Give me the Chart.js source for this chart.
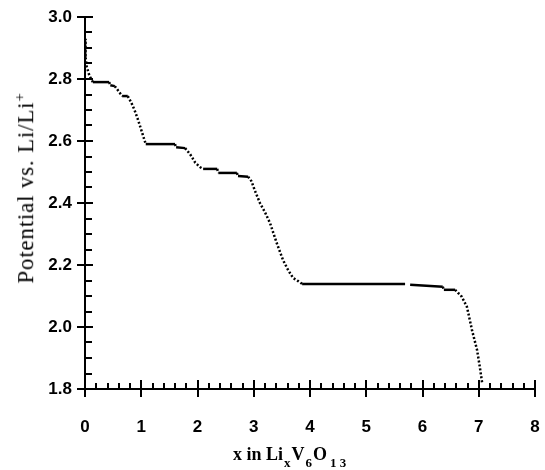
<!DOCTYPE html>
<html>
<head>
<meta charset="utf-8">
<script src="https://cdn.jsdelivr.net/npm/chart.js@4"></script>
<style>
body{margin:0;background:#fff;}
#wrap{position:relative;width:545px;height:470px;overflow:hidden;}
#yTitle{position:absolute;left:25px;top:188px;transform:translate(-50%,-50%) rotate(-90deg);white-space:nowrap;
  font-family:"Liberation Serif","Times New Roman",serif;font-size:23px;letter-spacing:0.8px;color:#000;}
#yTitle sup{font-size:15px;}
#xTitle{position:absolute;left:233px;top:445px;white-space:nowrap;line-height:1;
  font-family:"Liberation Serif","Times New Roman",serif;font-size:18px;font-weight:bold;color:#000;}
#xTitle sub{font-size:13px;vertical-align:baseline;position:relative;top:7px;margin:0 1px 0 1px;}
</style>
</head>
<body>
<div id="wrap">
  <canvas id="c" width="545" height="470"></canvas>
  <div id="yTitle">Potential vs. Li/Li<sup>+</sup></div>
  <div id="xTitle">x in Li<sub>x</sub>V<sub>6</sub>O<sub style="margin-left:3px">1 3</sub></div>
</div>
<script>
// ======= Data =======
const xVals=[0,0.01,0.03,0.08,0.14,0.43,0.45,0.53,0.6,0.66,0.76,0.82,0.88,0.94,1.01,1.08,
  1.6,1.62,1.78,1.87,1.96,2.05,2.1,2.35,2.37,2.7,2.72,2.9,2.96,3.02,3.11,3.2,3.29,3.41,3.52,3.61,
  3.70,3.79,3.86,5.69,5.73,5.78,6.36,6.38,6.58,6.63,6.67,6.70,6.79,6.88,6.97,7.02,7.06];
const yVals=[2.93,2.87,2.84,2.81,2.79,2.79,2.78,2.777,2.76,2.745,2.745,2.725,2.70,2.67,2.63,2.59,
  2.59,2.58,2.577,2.557,2.53,2.515,2.51,2.51,2.497,2.497,2.487,2.485,2.47,2.44,2.40,2.37,2.335,2.27,2.216,2.184,
  2.158,2.148,2.139,2.139,null,2.136,2.13,2.12,2.12,2.11,2.105,2.097,2.065,1.99,1.926,1.87,1.82];
const xTicks=[0,1,2,3,4,5,6,7,8];
const yTicks=[1.8,2.0,2.2,2.4,2.6,2.8,3.0];

const pts=xVals.map((x,i)=>({x,y:yVals[i]}));
const tickFont={family:'"Liberation Sans", Arial, sans-serif',size:17,weight:'bold'};

// flat runs look solid, steep runs look dotted
function segDash(c){
  const dx=Math.abs(c.p1.x-c.p0.x), dy=Math.abs(c.p1.y-c.p0.y);
  return dy>dx*0.35?[2,2]:undefined;
}

// ======= Major / minor ticks, crossing and inside =======
const tickPlugin={
  id:'ticks',
  afterDraw(chart){
    const {ctx,scales:{x,y}}=chart;
    const y0=y.getPixelForValue(1.8), x0=x.getPixelForValue(0);
    ctx.save();
    ctx.strokeStyle='#000';ctx.lineWidth=2;
    ctx.beginPath();
    for(let i=0;i<=40;i++){
      const v=i*0.2, px=Math.round(x.getPixelForValue(v));
      if(i%5===0){ctx.moveTo(px,y0-9);ctx.lineTo(px,y0+8);}
      else{ctx.moveTo(px,y0);ctx.lineTo(px,y0-6);}
    }
    for(let i=0;i<=24;i++){
      const v=1.8+i*0.05, py=Math.round(y.getPixelForValue(v));
      if(i%4===0){ctx.moveTo(x0-8,py);ctx.lineTo(x0+8,py);}
      else{ctx.moveTo(x0,py);ctx.lineTo(x0+7,py);}
    }
    ctx.stroke();
    ctx.restore();
  }
};

// invisible tick marks only push the labels away from the axis
const hiddenGrid=len=>({display:true,drawOnChartArea:false,drawTicks:true,tickLength:len,color:'rgba(0,0,0,0)'});

new Chart(document.getElementById('c'),{
  type:'line',
  data:{datasets:[{data:pts,borderColor:'#000',borderWidth:2.5,pointRadius:0,tension:0,spanGaps:false,
    segment:{borderDash:segDash}}]},
  options:{
    responsive:false,animation:false,
    layout:{padding:{left:0,top:17,right:10,bottom:0}},
    plugins:{legend:{display:false},tooltip:{enabled:false}},
    scales:{
      x:{type:'linear',min:0,max:8,
        afterBuildTicks:s=>{s.ticks=xTicks.map(v=>({value:v}));},
        afterFit:s=>{s.height=81;},
        grid:hiddenGrid(28),
        border:{color:'#000',width:2},
        ticks:{color:'#000',font:tickFont,padding:0,maxRotation:0}},
      y:{type:'linear',min:1.8,max:3.0,
        afterBuildTicks:s=>{s.ticks=yTicks.map(v=>({value:v}));},
        afterFit:s=>{s.width=85;},
        grid:hiddenGrid(13),
        border:{color:'#000',width:2},
        ticks:{color:'#000',font:tickFont,padding:0,callback:v=>Number(v).toFixed(1)}}
    }
  },
  plugins:[tickPlugin]
});
</script>
</body>
</html>
